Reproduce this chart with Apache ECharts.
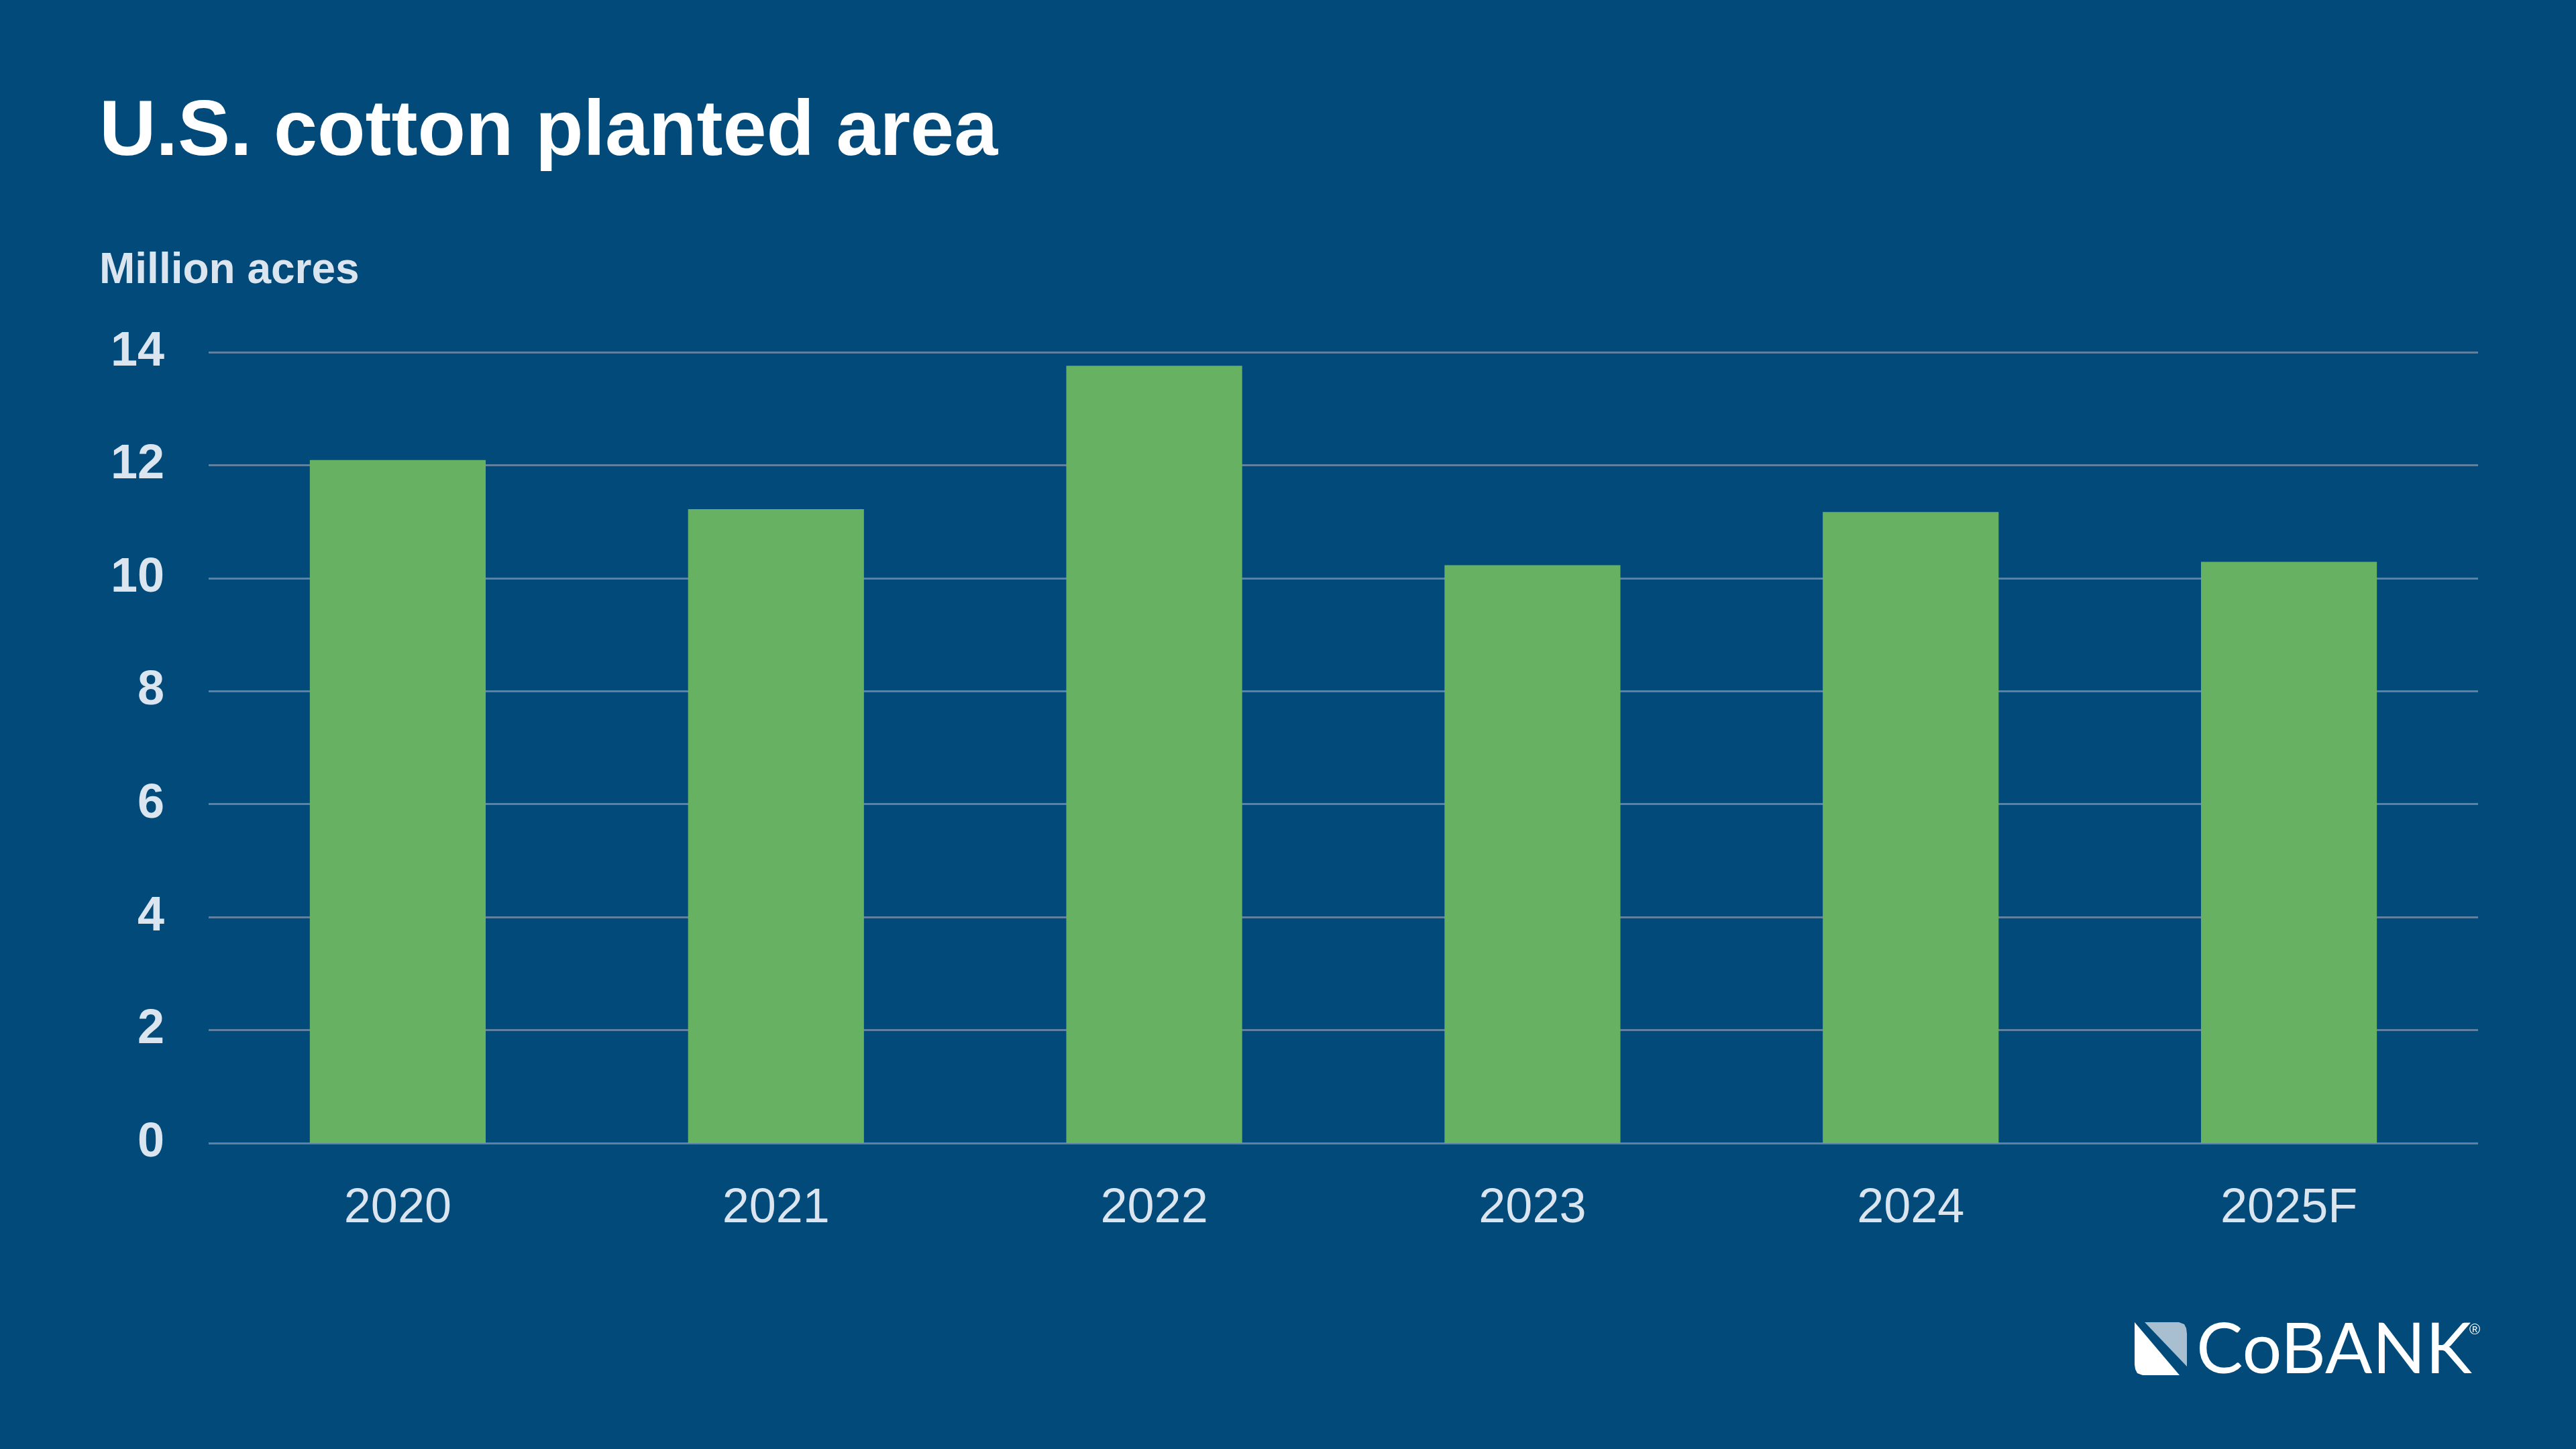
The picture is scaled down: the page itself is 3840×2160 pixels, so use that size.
<!DOCTYPE html>
<html><head><meta charset="utf-8">
<script src="https://cdn.jsdelivr.net/npm/echarts@6/dist/echarts.min.js"></script>
<style>html,body{margin:0;padding:0;background:#014a7a}#c{width:3840px;height:2160px}</style>
</head><body><div id="c"></div>
<script>
const categories = ['2020', '2021', '2022', '2023', '2024', '2025F'];
const plantedArea = [12.09, 11.22, 13.76, 10.23, 11.17, 10.29];
const yTickStep = 2;
const yMax = 14;
const titleText = 'U.S. cotton planted area';
const unitText = 'Million acres';
const logoText = 'CoBANK';

const chart = echarts.init(document.getElementById('c'), null, {renderer: 'canvas'});
const font = '"Liberation Sans", Arial, sans-serif';
chart.setOption({
  backgroundColor: '#014a7a',
  animation: false,
  title: [
    {text: titleText, left: 148, top: 140, padding: 0,
     textStyle: {color: '#ffffff', fontSize: 117, fontWeight: 'bold', fontFamily: font}},
    {text: unitText, left: 148, top: 372, padding: 0,
     textStyle: {color: '#dbe5ef', fontSize: 64, fontWeight: 'bold', fontFamily: font}}
  ],
  grid: {left: 311, right: 146, top: 525, bottom: 456, containLabel: false},
  xAxis: {
    type: 'category', data: categories,
    axisLine: {show: false}, axisTick: {show: false},
    axisLabel: {color: '#dbe5ef', fontSize: 72, fontFamily: font, margin: 62}
  },
  yAxis: {
    type: 'value', min: 0, max: yMax, interval: yTickStep,
    axisLine: {show: false}, axisTick: {show: false},
    axisLabel: {color: '#dbe5ef', fontSize: 72, fontWeight: 'bold', fontFamily: font, margin: 66},
    splitLine: {lineStyle: {color: '#5f819f', width: 3}}
  },
  series: [{
    type: 'bar', data: plantedArea, barWidth: '46.5%',
    itemStyle: {color: '#66b262'}
  }],
  graphic: [
    {type: 'polygon', shape: {points: [[3182,1971],[3249,2050],[3194,2050],[3186,2047],[3183,2041],[3182,2034]]},
     style: {fill: '#ffffff'}},
    {type: 'polygon', shape: {points: [[3197,1971],[3248,1971],[3256,1974],[3259,1980],[3260,1988],[3260,2037]]},
     style: {fill: '#a8bfd2'}},
    {type: 'text', left: 3274, top: 1961,
     style: {text: logoText, fill: '#ffffff', fontSize: 104, fontFamily: '"Lato", "Open Sans", sans-serif', fontWeight: 'normal'}},
    {type: 'text', left: 3681, top: 1972,
     style: {text: '®', fill: '#ffffff', fontSize: 22, fontFamily: font}}
  ]
});
</script></body></html>
